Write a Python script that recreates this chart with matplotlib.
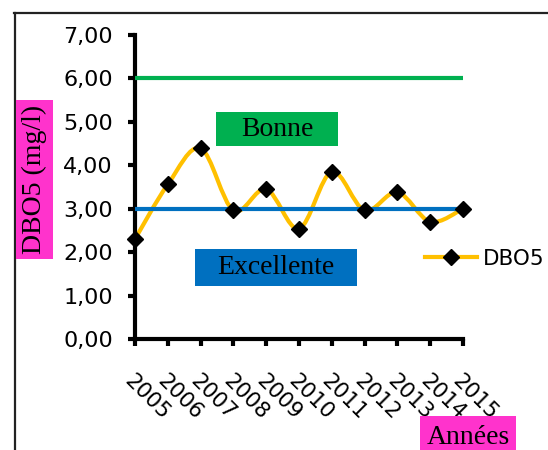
import matplotlib
matplotlib.use("Agg")
import matplotlib.pyplot as plt
from matplotlib.path import Path
from matplotlib.patches import PathPatch, Rectangle
from matplotlib.lines import Line2D

# data
years = ["2005", "2006", "2007", "2008", "2009", "2010",
         "2011", "2012", "2013", "2014", "2015"]
dbo5 = [2.30, 3.56, 4.39, 2.96, 3.45, 2.54, 3.85, 2.96, 3.38, 2.70, 3.00]
seuil_bonne = 6.0
seuil_excellente = 3.0
y_ticks = [0, 1, 2, 3, 4, 5, 6, 7]
y_tick_labels = [f"{v:.2f}".replace(".", ",") for v in y_ticks]

# colours (Excel palette)
GOLD = "#FFC000"
GREEN = "#00B050"
BLUE = "#0070C0"
PINK = "#FF33CC"

W, H = 548, 450
SERIF = "Liberation Serif"


def fx(x):
    # pixel x -> figure fraction
    return x / W


def fy(y):
    # pixel y (from top) -> figure fraction
    return 1 - y / H


def smooth_path(xs, ys):
    # Excel-like smoothed line: cubic Bezier through every point
    pts = list(zip(xs, ys))
    n = len(pts)
    verts = [pts[0]]
    codes = [Path.MOVETO]
    for i in range(n - 1):
        p0 = pts[max(i - 1, 0)]
        p1 = pts[i]
        p2 = pts[i + 1]
        p3 = pts[min(i + 2, n - 1)]
        c1 = (p1[0] + (p2[0] - p0[0]) / 6, p1[1] + (p2[1] - p0[1]) / 6)
        c2 = (p2[0] - (p3[0] - p1[0]) / 6, p2[1] - (p3[1] - p1[1]) / 6)
        verts += [c1, c2, p2]
        codes += [Path.CURVE4] * 3
    return Path(verts, codes)


def label_box(x0, y0, x1, y1, color, text, rotation=0):
    # coloured rectangle in figure pixels with a centred serif label
    fig.add_artist(Rectangle((fx(x0), fy(y1)), fx(x1) - fx(x0), fy(y0) - fy(y1),
                             transform=fig.transFigure, facecolor=color,
                             edgecolor="none", zorder=3))
    fig.text(fx((x0 + x1) / 2), fy((y0 + y1) / 2), text, family=SERIF,
             fontsize=20, color="black", ha="center", va="center",
             rotation=rotation, zorder=4)


fig = plt.figure(figsize=(W / 100, H / 100), dpi=100)
fig.patch.set_facecolor("white")
ax = fig.add_axes([fx(135), fy(339), fx(463) - fx(135), fy(35) - fy(339)])

x = list(range(len(years)))

# smoothed series line
ax.add_patch(PathPatch(smooth_path(x, dbo5), facecolor="none", edgecolor=GOLD,
                       lw=3, capstyle="round", clip_on=False, zorder=2))
# quality thresholds
ax.plot([x[0], x[-1]], [seuil_bonne] * 2, color=GREEN, lw=3,
        solid_capstyle="butt", zorder=3)
ax.plot([x[0], x[-1]], [seuil_excellente] * 2, color=BLUE, lw=3,
        solid_capstyle="butt", zorder=3)
# markers
ax.plot(x, dbo5, linestyle="none", marker="D", markersize=8,
        color="black", clip_on=False, zorder=4)

ax.set_xlim(x[0], x[-1])
ax.set_ylim(0, 7)
ax.set_yticks(y_ticks)
ax.set_yticklabels(y_tick_labels, fontsize=16, family="DejaVu Sans")
ax.set_xticks(x)
ax.set_xticklabels(years, fontsize=15.5, family="DejaVu Sans", rotation=-45,
                   ha="left", va="top", rotation_mode="anchor")

for side in ["top", "right"]:
    ax.spines[side].set_visible(False)
for side in ["left", "bottom"]:
    ax.spines[side].set_linewidth(3)
    ax.spines[side].set_color("black")
ax.tick_params(axis="both", direction="out", length=5, width=3, colors="black")
ax.tick_params(axis="y", pad=11)
ax.tick_params(axis="x", pad=18)

# legend
handle = Line2D([], [], color=GOLD, lw=3, marker="D", markersize=8,
                markerfacecolor="black", markeredgecolor="black")
fig.legend([handle], ["DBO5"], loc="center left",
           bbox_to_anchor=(fx(425), fy(259)), frameon=False,
           prop={"family": "DejaVu Sans", "size": 15.5}, borderpad=0,
           borderaxespad=0, handlelength=2.4, handletextpad=0.3)

# text boxes
label_box(216, 112, 338, 146, GREEN, "Bonne")
label_box(195, 249, 357, 286, BLUE, "Excellente")
label_box(16, 100, 53, 259, PINK, "DBO5 (mg/l)", rotation=90)
label_box(420, 416, 516, 460, PINK, "Années")

# outer frame
fig.add_artist(Line2D([fx(14.5), fx(14.5)], [fy(13), fy(450)],
                      transform=fig.transFigure, color="#222222", lw=1.6))
fig.add_artist(Line2D([fx(14), fx(548)], [fy(13), fy(13)],
                      transform=fig.transFigure, color="#222222", lw=1.6))

fig.savefig("out.png", dpi=100)
plt.close(fig)
